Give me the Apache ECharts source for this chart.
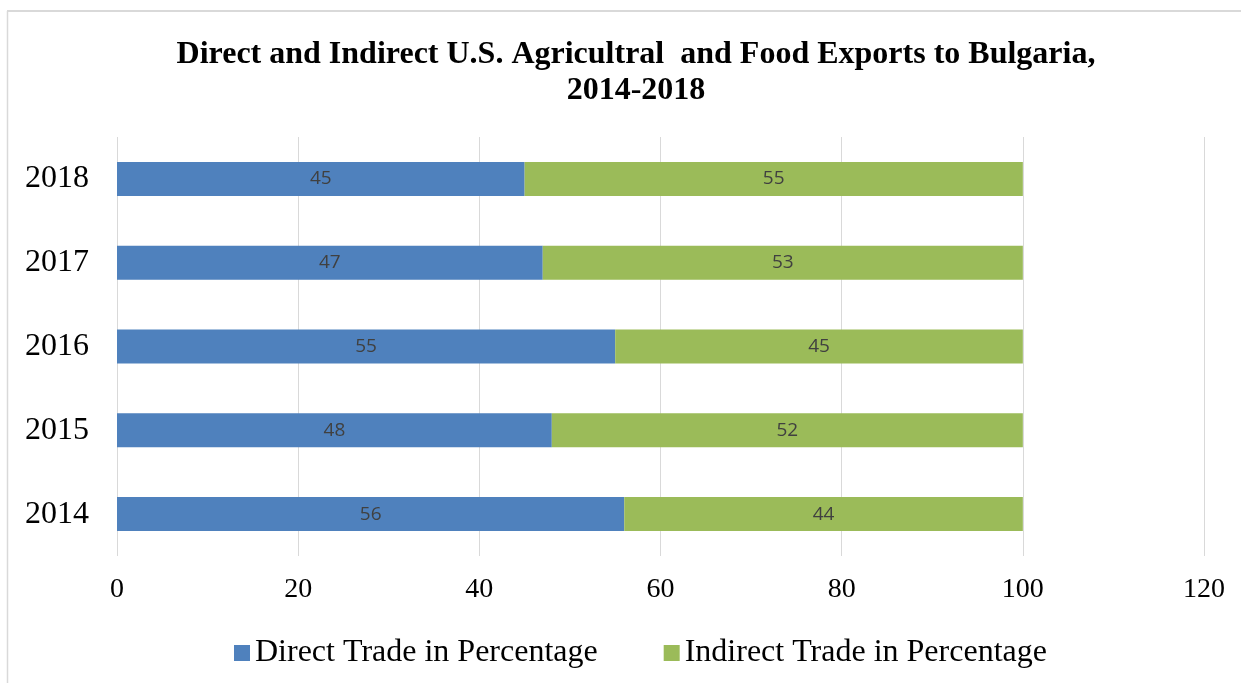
<!DOCTYPE html>
<html>
<head>
<meta charset="utf-8">
<script src="https://cdn.jsdelivr.net/npm/echarts@6/dist/echarts.min.js"></script>
<style>
html,body{margin:0;padding:0;background:#fff;}
#chart{width:1241px;height:683px;}
</style>
</head>
<body>
<div id="chart"></div>
<script>
const years = ['2014', '2015', '2016', '2017', '2018'];
const directTrade = [56, 48, 55, 47, 45];
const indirectTrade = [44, 52, 45, 53, 55];
const seriesNames = ['Direct Trade in Percentage', 'Indirect Trade in Percentage'];
const titleText = 'Direct and Indirect U.S. Agricultral  and Food Exports to Bulgaria,\n2014-2018';

const chart = echarts.init(document.getElementById('chart'), null, {renderer: 'canvas'});
const serif = '"Liberation Serif", "DejaVu Serif", serif';
const labelStyle = {show: true, position: 'inside', color: '#404040', fontSize: 19, fontFamily: '"Open Sans", "Liberation Sans", sans-serif'};

chart.setOption({
  backgroundColor: '#fff',
  animation: false,
  title: {
    text: titleText,
    left: 631, textAlign: 'center', top: 32,
    textStyle: {fontFamily: serif, fontWeight: 'bold', fontSize: 32, color: '#000', lineHeight: 36}
  },
  legend: {
    data: seriesNames,
    left: 229, top: 632,
    icon: 'rect', itemWidth: 16, itemHeight: 16, itemGap: 66,
    textStyle: {fontFamily: serif, fontSize: 32, color: '#000'}
  },
  grid: {left: 117, right: 37, top: 137, bottom: 127, containLabel: false},
  xAxis: {
    type: 'value', min: 0, max: 120, interval: 20,
    axisLine: {show: false}, axisTick: {show: false},
    splitLine: {show: true, lineStyle: {color: '#d9d9d9', width: 1}},
    axisLabel: {fontFamily: serif, fontSize: 28, color: '#000', margin: 20}
  },
  yAxis: {
    type: 'category', data: years,
    axisLine: {show: false}, axisTick: {show: false},
    axisLabel: {fontFamily: serif, fontSize: 32, color: '#000', margin: 28}
  },
  series: [
    {name: seriesNames[0], type: 'bar', stack: 'total', data: directTrade, barWidth: 34,
     itemStyle: {color: '#4f81bd'}, label: labelStyle},
    {name: seriesNames[1], type: 'bar', stack: 'total', data: indirectTrade, barWidth: 34,
     itemStyle: {color: '#9bbb59'}, label: labelStyle}
  ],
  graphic: [
    {type: 'line', shape: {x1: 7, y1: 11, x2: 1241, y2: 11}, style: {stroke: '#d9d9d9', lineWidth: 2}},
    {type: 'line', shape: {x1: 7.5, y1: 11, x2: 7.5, y2: 683}, style: {stroke: '#d9d9d9', lineWidth: 1.5}}
  ]
});
</script>
</body>
</html>
